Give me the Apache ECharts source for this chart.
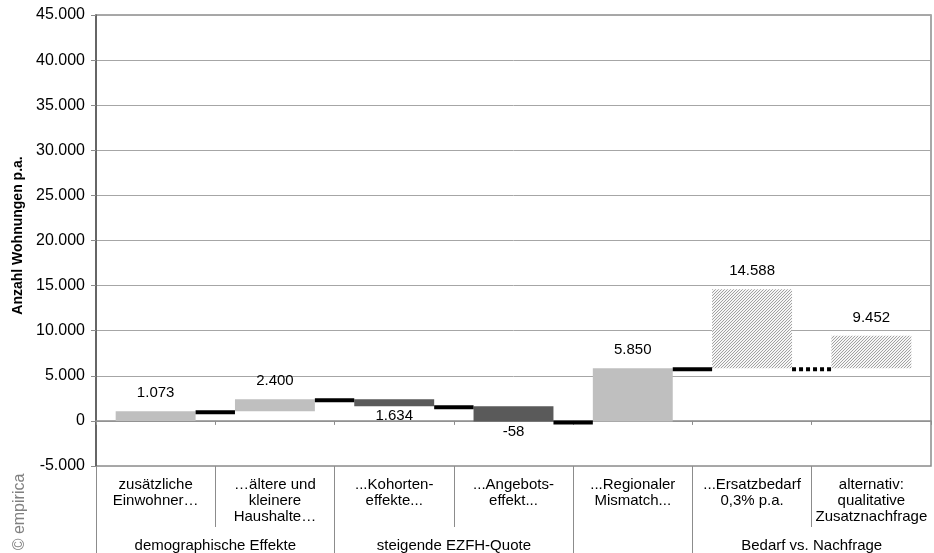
<!DOCTYPE html>
<html>
<head>
<meta charset="utf-8">
<script src="https://cdn.jsdelivr.net/npm/echarts@6/dist/echarts.min.js"></script>
<style>
  html, body { margin: 0; padding: 0; background: #fff; }
  #chart { width: 934px; height: 553px; }
</style>
</head>
<body>
<div id="chart"></div>
<script>
// Wohnungsbedarf: Komponenten als Wasserfall
const categories = [
  'zusätzliche\nEinwohner…',
  '…ältere und\nkleinere\nHaushalte…',
  '...Kohorten-\neffekte...',
  '...Angebots-\neffekt...',
  '...Regionaler\nMismatch...',
  '...Ersatzbedarf\n0,3% p.a.',
  'alternativ:\nqualitative\nZusatznachfrage'
];
// Niveau vor und nach jedem Schritt
const startLevels = [0, 1073, 2400, 1634, -58, 5850, 5850];
const endLevels   = [1073, 2400, 1634, -58, 5850, 14588, 9452];
// Obergruppen und Anzahl der zugehörigen Kategorien
const groupNames = ['demographische Effekte', 'steigende EZFH-Quote', '', 'Bedarf vs. Nachfrage'];
const groupSizes = [2, 2, 1, 2];
// Werteachse
const yMin = -5000, yMax = 45000, yStep = 5000;

const FONT = "'Liberation Sans', Arial, sans-serif";

function fmt(v) {
  const s = String(Math.abs(Math.round(v)));
  const grouped = s.replace(/\B(?=(\d{3})+(?!\d))/g, '.');
  return (v < 0 ? '-' : '') + grouped;
}

// Gruppengrenzen und -mitten auf der Kategorienachse
const groupStarts = [];
const groupCenters = [];
let acc = 0;
groupSizes.forEach(function (n) {
  groupStarts.push(acc);
  groupCenters.push(acc + n / 2);
  acc += n;
});
const innerBounds = [];
for (let b = 1; b < categories.length; b++) {
  if (groupStarts.indexOf(b) < 0) innerBounds.push(b);
}
function groupOf(i) {
  let g = 0;
  for (let k = 0; k < groupStarts.length; k++) if (i >= groupStarts[k]) g = k;
  return g;
}
const hatchGroup = groupNames.indexOf('Bedarf vs. Nachfrage');

// Feine Schraffur (3px-Raster, "/"-Diagonalen) für die Bedarfs-Balken
const hatch = document.createElement('canvas');
hatch.width = 3; hatch.height = 3;
(function () {
  const c = hatch.getContext('2d');
  c.fillStyle = '#f6f6f6';
  c.fillRect(0, 0, 3, 3);
  c.fillStyle = '#a2a2a2';
  for (let x = 0; x < 3; x++) {
    for (let y = 0; y < 3; y++) {
      if ((x + y) % 3 === 2) c.fillRect(x, y, 1, 1);
    }
  }
})();

const BAR_RATIO = 0.67;

const barData = categories.map(function (_, i) {
  return [i, startLevels[i], endLevels[i]];
});
const connectorData = [];
for (let i = 0; i < categories.length - 1; i++) {
  connectorData.push([i, startLevels[i + 1], endLevels[i] === startLevels[i + 1] ? 0 : 1]);
}

const chart = echarts.init(document.getElementById('chart'), null, { renderer: 'canvas' });

chart.setOption({
  animation: false,
  backgroundColor: '#ffffff',
  textStyle: { fontFamily: FONT },
  grid: {
    left: 96, right: 3, top: 15, bottom: 87,
    outerBoundsMode: 'none',
    containLabel: false,
    show: true, borderColor: '#8c8c8c', borderWidth: 1.5, backgroundColor: 'transparent'
  },
  xAxis: [
    {
      type: 'category',
      data: categories,
      axisLine: { onZero: true, lineStyle: { color: '#8c8c8c', width: 1.5 } },
      axisTick: { show: true, length: 4, lineStyle: { color: '#8c8c8c' } },
      axisLabel: { show: false },
      splitLine: { show: false }
    },
    {
      type: 'value',
      min: 0, max: categories.length,
      position: 'bottom',
      axisLine: { show: false, onZero: false },
      axisTick: { show: true, length: 61, customValues: innerBounds, lineStyle: { color: '#8c8c8c' } },
      axisLabel: {
        customValues: categories.map(function (_, i) { return i + 0.5; }),
        formatter: function (v) { return categories[Math.floor(v)]; },
        color: '#000', fontSize: 15, lineHeight: 16, margin: 11, fontFamily: FONT
      },
      splitLine: { show: false }
    },
    {
      type: 'value',
      min: 0, max: categories.length,
      position: 'bottom',
      axisLine: { show: false, onZero: false },
      axisTick: { show: true, length: 92, customValues: groupStarts, lineStyle: { color: '#8c8c8c' } },
      axisLabel: {
        customValues: groupCenters.filter(function (_, g) { return groupNames[g] !== ''; }),
        formatter: function (v) { return groupNames[groupCenters.indexOf(v)]; },
        color: '#000', fontSize: 15, lineHeight: 16, margin: 72, fontFamily: FONT
      },
      splitLine: { show: false }
    }
  ],
  yAxis: {
    type: 'value',
    min: yMin, max: yMax, interval: yStep,
    name: 'Anzahl Wohnungen p.a.',
    nameLocation: 'middle',
    nameGap: 71,
    nameTextStyle: { fontWeight: 'bold', fontSize: 14, color: '#000', fontFamily: FONT, padding: [0, 0, 0, 10] },
    axisLine: { show: true, lineStyle: { color: '#505050', width: 1.5 } },
    axisTick: { show: true, length: 5, lineStyle: { color: '#8c8c8c' } },
    axisLabel: { formatter: fmt, fontSize: 16, color: '#000', margin: 11, fontFamily: FONT },
    splitLine: { show: true, lineStyle: { color: '#a6a6a6', width: 1 } }
  },
  graphic: [{
    type: 'text',
    x: 20, y: 512,
    rotation: Math.PI / 2,
    style: {
      text: '© empirica',
      fill: '#808080',
      font: '16px ' + FONT,
      align: 'center',
      verticalAlign: 'middle'
    }
  }],
  series: [
    {
      type: 'custom',
      xAxisIndex: 0,
      data: barData,
      z: 3,
      renderItem: function (params, api) {
        const i = api.value(0), s = api.value(1), e = api.value(2);
        const p0 = api.coord([i, s]);
        const p1 = api.coord([i, e]);
        const w = api.size([1, 0])[0] * BAR_RATIO;
        const top = Math.min(p0[1], p1[1]);
        const bottom = Math.max(p0[1], p1[1]);
        const falling = e < s;
        let fill = falling ? '#5a5a5a' : '#bfbfbf';
        if (groupOf(i) === hatchGroup) fill = { image: hatch, repeat: 'repeat' };
        return {
          type: 'group',
          children: [
            {
              type: 'rect',
              shape: { x: p0[0] - w / 2, y: top, width: w, height: bottom - top },
              style: { fill: fill }
            },
            {
              type: 'text',
              x: p0[0],
              y: falling ? bottom + 10 : top - 18,
              style: {
                text: fmt(e),
                fill: '#000',
                font: '15px ' + FONT,
                align: 'center',
                verticalAlign: 'middle'
              }
            }
          ]
        };
      }
    },
    {
      type: 'custom',
      xAxisIndex: 0,
      data: connectorData,
      z: 4,
      renderItem: function (params, api) {
        const i = api.value(0), level = api.value(1), dotted = api.value(2);
        const c = api.coord([i, level]);
        const w = api.size([1, 0])[0];
        const bw = w * BAR_RATIO;
        return {
          type: 'line',
          shape: { x1: c[0] + bw / 2, y1: c[1] + 1, x2: c[0] + w - bw / 2, y2: c[1] + 1 },
          style: {
            stroke: '#000',
            lineWidth: 4,
            lineDash: dotted ? [4, 3] : null,
            lineCap: 'butt'
          }
        };
      }
    }
  ]
});
</script>
</body>
</html>
